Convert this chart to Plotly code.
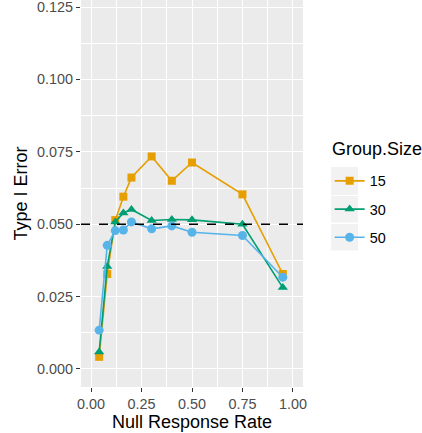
import plotly.graph_objects as go

# Null response rates and observed Type I error by group size
null_rate = [0.04, 0.08, 0.12, 0.16, 0.20, 0.30, 0.40, 0.50, 0.75, 0.95]
err_15 = [0.0042, 0.0328, 0.0514, 0.0595, 0.0661, 0.0734, 0.0650, 0.0713, 0.0603, 0.0328]
err_30 = [0.0059, 0.0354, 0.0508, 0.0539, 0.0551, 0.0513, 0.0516, 0.0515, 0.0500, 0.0281]
err_50 = [0.0134, 0.0427, 0.0478, 0.0480, 0.0508, 0.0484, 0.0494, 0.0472, 0.0461, 0.0317]
group_labels = ["15", "30", "50"]
nominal_alpha = 0.05

y_ticks = [0.000, 0.025, 0.050, 0.075, 0.100, 0.125]
x_ticks = [0.00, 0.25, 0.50, 0.75, 1.00]

colors = ["#E69F00", "#009E73", "#56B4E9"]
symbols = ["square", "triangle-up", "circle"]
sizes = [8, 9, 9]

# plot area in pixels (figure 422 x 433)
W, H = 422, 433
L, R, T, B = 81, 119, 0, 46
pw, ph = W - L - R, H - T - B


def px_x(x):
    return (x - L) / pw


def px_y(y):
    return (H - B - y) / ph


fig = go.Figure()
for vals, lab, col, sym, sz in zip([err_15, err_30, err_50], group_labels, colors, symbols, sizes):
    fig.add_trace(go.Scatter(
        x=null_rate, y=vals, name=lab, mode="lines+markers", legendgroup=lab,
        line=dict(color=col, width=1.6),
        marker=dict(symbol=sym, size=sz, color=col),
    ))

# nominal alpha reference line
fig.add_shape(type="line", xref="paper", x0=0, x1=1, yref="y", y0=nominal_alpha, y1=nominal_alpha,
              line=dict(color="black", width=1.5, dash="dash"), layer="above")

# grey legend key backgrounds
for top, bot in [(167, 195), (196, 222.5), (224, 250.5)]:
    fig.add_shape(type="rect", xref="paper", yref="paper",
                  x0=px_x(331), x1=px_x(358), y0=px_y(bot), y1=px_y(top),
                  fillcolor="#F2F2F2", line=dict(width=0), layer="below")

font_family = "Liberation Sans, Arial, sans-serif"

fig.add_annotation(text="Group.Size", xref="paper", yref="paper",
                   x=px_x(330), y=px_y(149), xanchor="left", yanchor="middle",
                   showarrow=False, font=dict(size=18, color="black", family=font_family))

fig.update_layout(
    width=W, height=H,
    margin=dict(l=L, r=R, t=T, b=B),
    paper_bgcolor="white",
    plot_bgcolor="#EBEBEB",
    font=dict(family=font_family, color="#4D4D4D"),
    showlegend=True,
    legend=dict(
        font=dict(size=14.4, color="black"),
        x=1.12, xanchor="left", y=px_y(165), yanchor="top",
        bgcolor="rgba(0,0,0,0)", itemwidth=30, tracegroupgap=6.5,
        traceorder="grouped",
    ),
    xaxis=dict(
        range=[-0.05, 1.05], tickvals=x_ticks, tickformat=".2f",
        showgrid=True, gridcolor="white", gridwidth=1.3, zeroline=False,
        ticks="outside", ticklen=4, tickcolor="#333333", tickwidth=1,
        tickfont=dict(size=14.4, color="#4D4D4D"),
        minor=dict(dtick=0.125, tick0=0, showgrid=True, gridcolor="white", gridwidth=0.6),
        title=dict(text="Null Response Rate", font=dict(size=18, color="black"), standoff=2),
    ),
    yaxis=dict(
        range=[-0.00622, 0.12742], tickvals=y_ticks, tickformat=".3f",
        showgrid=True, gridcolor="white", gridwidth=1.3, zeroline=False,
        ticks="outside", ticklen=4, tickcolor="#333333", tickwidth=1,
        tickfont=dict(size=14.4, color="#4D4D4D"), ticklabeloverflow="allow",
        minor=dict(dtick=0.0125, tick0=0, showgrid=True, gridcolor="white", gridwidth=0.6),
        title=dict(text="Type I Error", font=dict(size=18, color="black"), standoff=4),
    ),
)

fig.write_html("out.html")
